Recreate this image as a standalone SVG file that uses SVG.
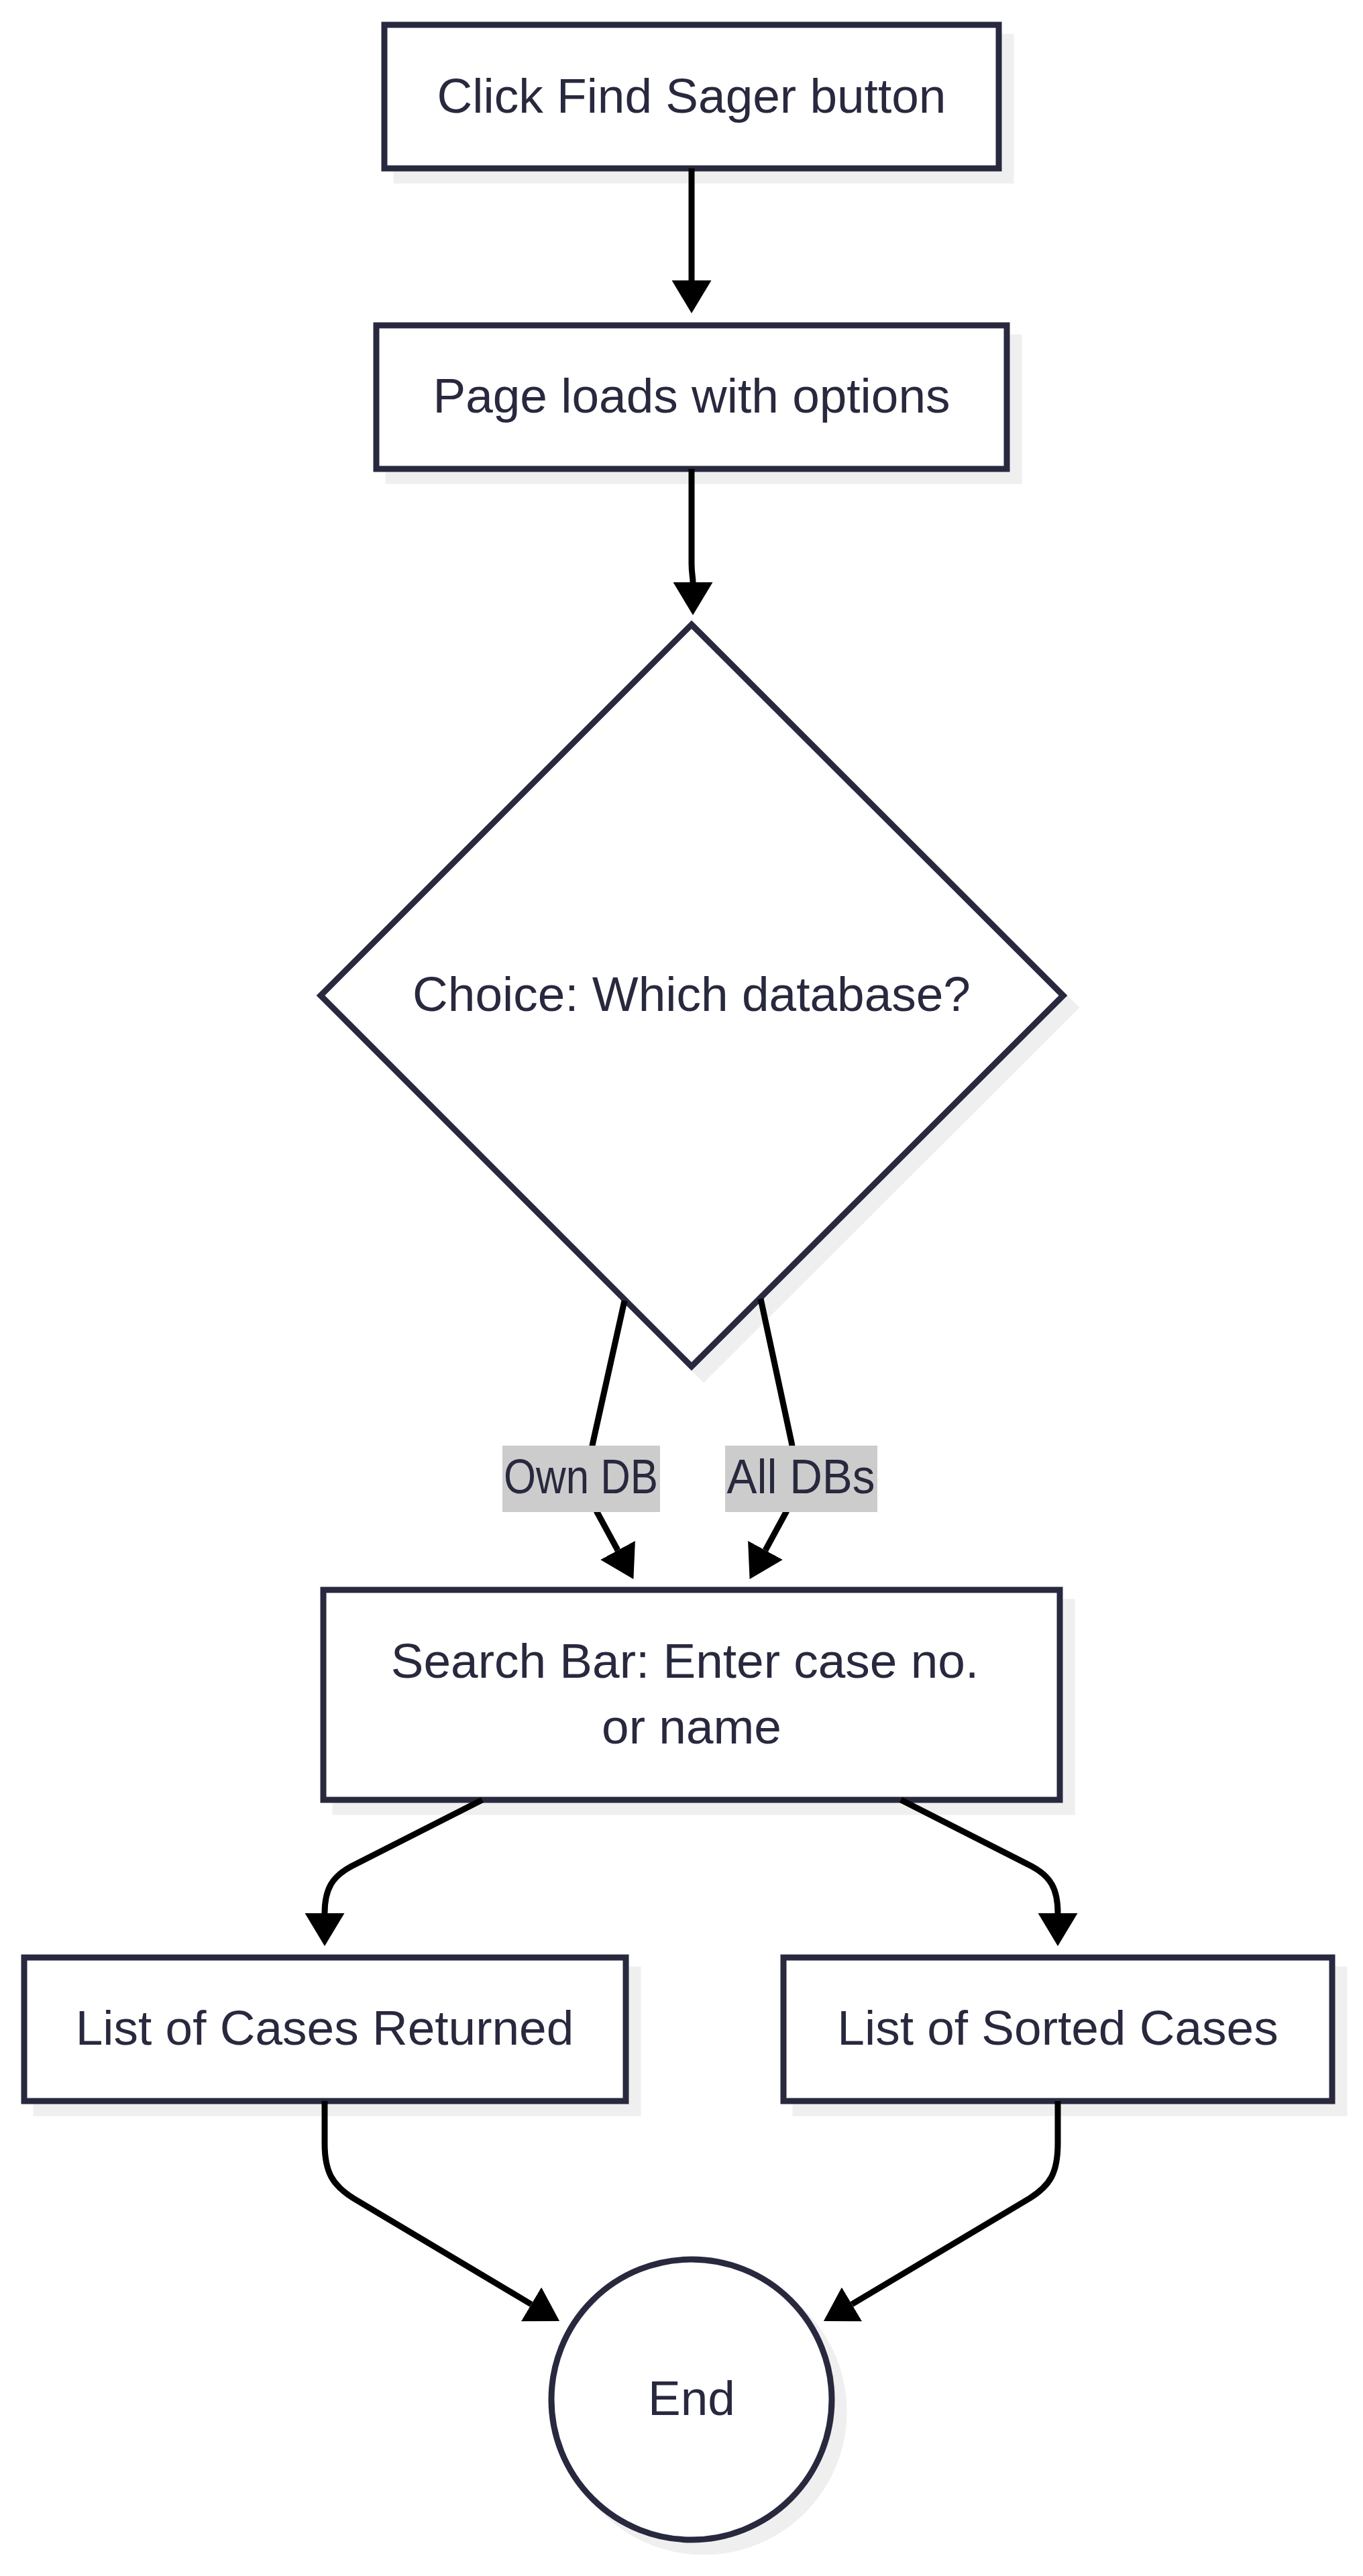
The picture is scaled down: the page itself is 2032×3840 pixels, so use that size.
<svg xmlns="http://www.w3.org/2000/svg" width="2032" height="3840" viewBox="0 0 2032 3840">
  <defs>
    <style>
      .shadow { fill: #efefef; stroke: #efefef; stroke-width: 9; }
      .node { fill: #ffffff; stroke: #28283e; stroke-width: 9; }
      .label { font-family: "Liberation Sans", Arial, sans-serif; font-size: 73px; fill: #28283e; text-anchor: middle; }
      .edge { fill: none; stroke: #000000; stroke-width: 9; marker-end: url(#arrow); }
      .elabel-bg { fill: #cccccc; }
    </style>
    <marker id="arrow" markerUnits="userSpaceOnUse" markerWidth="49" markerHeight="59" viewBox="0 0 49 59" refX="0" refY="29.5" orient="auto">
      <path d="M0,0 L49,29.5 L0,59 Z" fill="#000000"/>
    </marker>
  </defs>
  <rect x="0" y="0" width="2032" height="3840" fill="#ffffff"/>

  <g id="nodes">
    <g id="node-click">
      <rect class="shadow" x="591" y="55" width="916" height="214"/>
      <rect class="node" x="573" y="37" width="916" height="214"/>
      <text class="label" x="1031" y="168">Click Find Sager button</text>
    </g>
    <g id="node-page">
      <rect class="shadow" x="579" y="503" width="940" height="214"/>
      <rect class="node" x="561" y="485" width="940" height="214"/>
      <text class="label" x="1031" y="615">Page loads with options</text>
    </g>
    <g id="node-choice">
      <polygon class="shadow" points="1049,949 1603,1502 1049,2055 496,1502"/>
      <polygon class="node" points="1031,931 1585,1484 1031,2037 478,1484"/>
      <text class="label" x="1031" y="1507">Choice: Which database?</text>
    </g>
    <g id="node-search">
      <rect class="shadow" x="500" y="2388" width="1098" height="313"/>
      <rect class="node" x="482" y="2370" width="1098" height="313"/>
      <text class="label" x="1021" y="2501">Search Bar: Enter case no.</text>
      <text class="label" x="1031" y="2599">or name</text>
    </g>
    <g id="node-returned">
      <rect class="shadow" x="54" y="2936" width="897" height="214"/>
      <rect class="node" x="36" y="2918" width="897" height="214"/>
      <text class="label" x="484" y="3048">List of Cases Returned</text>
    </g>
    <g id="node-sorted">
      <rect class="shadow" x="1186" y="2936" width="818" height="214"/>
      <rect class="node" x="1168" y="2918" width="818" height="214"/>
      <text class="label" x="1577" y="3048">List of Sorted Cases</text>
    </g>
    <g id="node-end">
      <circle class="shadow" cx="1049" cy="3595" r="209"/>
      <circle class="node" cx="1031" cy="3577" r="209"/>
      <text class="label" x="1031" y="3600">End</text>
    </g>
  </g>

  <g id="connectors">
    <path class="edge" d="M1031,251 L1031,418"/>
    <path class="edge" d="M1031,699 L1031,840 C1031,855 1033,860 1033,868"/>
    <path class="edge" d="M931,1939 L884,2150 C874,2195 878,2225 890,2254 L921,2311"/>
    <path class="edge" d="M1134,1936 L1180,2150 C1188,2195 1185,2225 1172,2254 L1141,2311"/>
    <path class="edge" d="M719,2683 L524,2782 C496,2797 484,2815 484,2852"/>
    <path class="edge" d="M1343,2683 L1538,2782 C1566,2797 1577,2815 1577,2852"/>
    <path class="edge" d="M484,3132 L484,3195 C484,3240 497,3258 527,3277 L792,3435"/>
    <path class="edge" d="M1577,3132 L1577,3195 C1577,3240 1565,3258 1535,3277 L1270,3435"/>
  </g>

  <g id="edge-labels">
    <g id="label-own">
      <rect class="elabel-bg" x="749" y="2155" width="235" height="99"/>
      <text class="label" x="866" y="2226" textLength="230" lengthAdjust="spacingAndGlyphs">Own DB</text>
    </g>
    <g id="label-all">
      <rect class="elabel-bg" x="1081" y="2155" width="227" height="99"/>
      <text class="label" x="1194" y="2226" textLength="221" lengthAdjust="spacingAndGlyphs">All DBs</text>
    </g>
  </g>
</svg>
